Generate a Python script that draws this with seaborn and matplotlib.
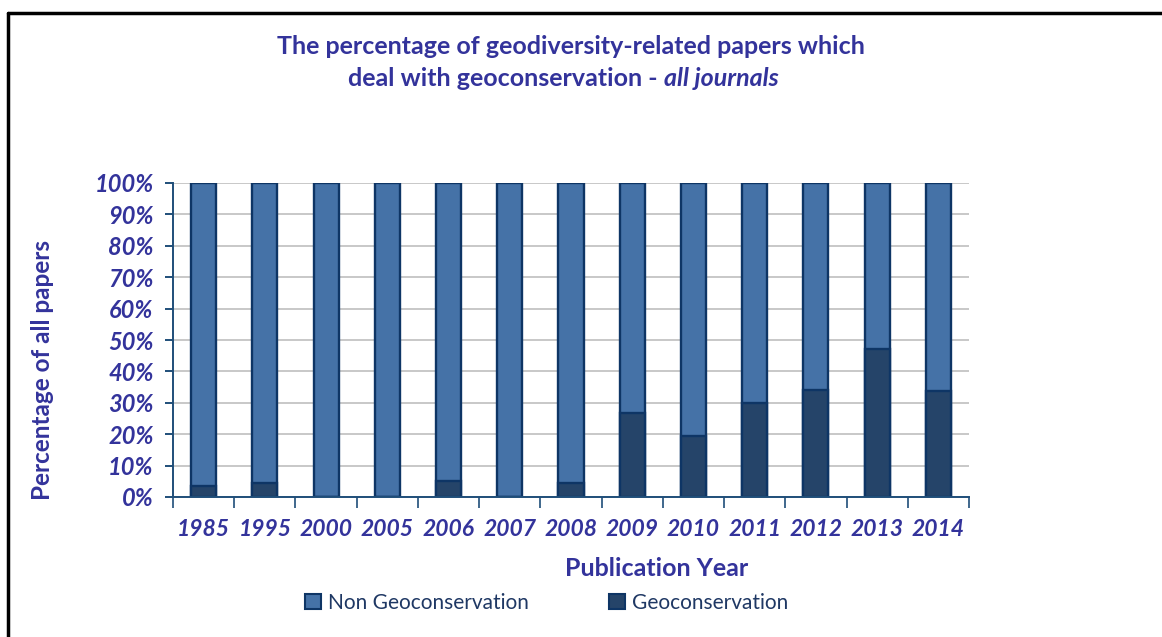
import matplotlib
matplotlib.use("Agg")
import matplotlib.pyplot as plt
from matplotlib.lines import Line2D
from matplotlib.patches import Patch
import seaborn as sns
import pandas as pd

years = ["1985", "1995", "2000", "2005", "2006", "2007", "2008",
         "2009", "2010", "2011", "2012", "2013", "2014"]
geo_pct = [3.4, 4.5, 0.0, 0.0, 5.0, 0.0, 4.3,
           26.7, 19.4, 30.0, 34.1, 47.1, 33.8]
non_geo_pct = [100 - g for g in geo_pct]
y_ticks = list(range(0, 101, 10))

LIGHT = "#4572a7"
DARK = "#254469"
EDGE = "#0e3565"
TEXT = "#33339b"
AXIS = "#1f4e79"

sns.set_theme(style="white")
plt.rcParams["font.family"] = ["Lato", "DejaVu Sans"]

W, H = 1162, 637
fig = plt.figure(figsize=(W / 100, H / 100), dpi=100)
ax = fig.add_axes([173 / W, 1 - 497 / H, (969 - 173) / W, (497 - 183) / H])

df = pd.DataFrame({"year": years, "geo": geo_pct,
                   "total": [g + n for g, n in zip(geo_pct, non_geo_pct)]})

# full-height bar (non-geoconservation on top) then the geoconservation share over it
sns.barplot(data=df, x="year", y="total", color=LIGHT, width=0.41,
            edgecolor=EDGE, linewidth=1.7, saturation=1, ax=ax, zorder=3)
sns.barplot(data=df, x="year", y="geo", color=DARK, width=0.41,
            edgecolor=EDGE, linewidth=1.7, saturation=1, ax=ax, zorder=4)

ax.set_xlim(-0.5, len(years) - 0.5)
ax.set_ylim(0, 100)
ax.set_yticks(y_ticks)
ax.set_yticklabels([f"{t}%" for t in y_ticks])
ax.yaxis.grid(True, color="#c4c4c4", linewidth=1.3, zorder=0)
ax.set_xlabel("")
ax.set_ylabel("")

for s in ["top", "right"]:
    ax.spines[s].set_visible(False)
for s in ["left", "bottom"]:
    ax.spines[s].set_color(AXIS)
    ax.spines[s].set_linewidth(1.4)
    ax.spines[s].set_zorder(5)

ax.tick_params(axis="y", which="major", direction="out", length=6, width=1.4,
               color=AXIS, left=True, pad=8)
ax.tick_params(axis="x", which="major", length=0, pad=16)
ax.set_xticks([i - 0.5 for i in range(len(years) + 1)], minor=True)
ax.tick_params(axis="x", which="minor", direction="out", length=8, width=1.2,
               color=AXIS, bottom=True)

for lbl in ax.get_yticklabels():
    lbl.set_fontsize(17)
for lbl in ax.get_xticklabels():
    lbl.set_fontsize(16.5)
for lbl in ax.get_yticklabels() + ax.get_xticklabels():
    lbl.set_fontweight("bold")
    lbl.set_fontstyle("italic")
    lbl.set_color(TEXT)

# titles and axis labels
fig.text(571 / W, 1 - 46 / H, "The percentage of geodiversity-related papers which",
         ha="center", va="center", fontsize=18, fontweight="bold", color=TEXT)
fig.text(664 / W, 1 - 78 / H, "deal with geoconservation - ",
         ha="right", va="center", fontsize=18, fontweight="bold", color=TEXT)
fig.text(664 / W, 1 - 78 / H, "all journals",
         ha="left", va="center", fontsize=18, fontweight="bold",
         fontstyle="italic", color=TEXT)
fig.text(657 / W, 1 - 568 / H, "Publication Year", ha="center", va="center",
         fontsize=18, fontweight="bold", color=TEXT)
fig.text(43 / W, 1 - 370 / H, "Percentage of all papers", ha="center",
         va="center", rotation=90, fontsize=17.5, fontweight="bold", color=TEXT)

handles = [Patch(facecolor=LIGHT, edgecolor=EDGE, linewidth=1.5),
           Patch(facecolor=DARK, edgecolor=EDGE, linewidth=1.5)]
fig.legend(handles, ["Non Geoconservation", "Geoconservation"],
           loc="center", bbox_to_anchor=(547 / W, 1 - 603 / H), ncol=2,
           frameon=False, fontsize=15, labelcolor="#1f3864",
           handlelength=0.75, handleheight=0.75, handletextpad=0.35,
           columnspacing=3.85)

# outer frame lines
fig.add_artist(Line2D([8 / W, 1], [1 - 13 / H, 1 - 13 / H], color="black",
                      linewidth=2.5, transform=fig.transFigure))
fig.add_artist(Line2D([8 / W, 8 / W], [0, 1 - 13 / H], color="black",
                      linewidth=2.5, transform=fig.transFigure))

fig.savefig("out.png", dpi=100, facecolor="white")
